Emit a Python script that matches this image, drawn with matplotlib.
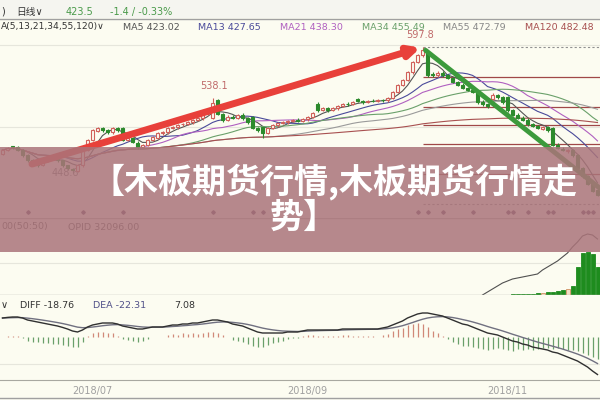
import numpy as np
import pandas as pd
import matplotlib
matplotlib.use("Agg")
import matplotlib.pyplot as plt
from matplotlib.patches import Rectangle
from matplotlib.lines import Line2D

plt.rcParams['font.family'] = ['DejaVu Sans', 'Noto Sans CJK SC']

# ---------------- data ----------------
opens = [472.0, 476.0, 480.5, 479.5, 476.0, 470.0, 464.0, 462.0, 459.0, 464.0,
         467.0, 468.5, 464.0, 458.0, 454.0, 452.0, 458.0, 476.0, 488.0, 499.0,
         502.5, 500.0, 497.0, 502.5, 502.5, 488.0, 490.0, 485.0, 480.0, 482.0,
         488.0, 491.0, 496.0, 497.0, 502.5, 503.0, 506.5, 507.0, 509.0, 511.5,
         513.5, 519.5, 514.0, 535.0, 519.0, 511.5, 515.5, 514.0, 518.0, 514.0,
         515.0, 502.0, 503.0, 496.5, 502.0, 505.5, 508.0, 509.0, 510.5, 512.0,
         510.5, 512.5, 515.0, 531.0, 523.5, 526.0, 523.5, 525.5, 528.0, 531.0,
         530.5, 536.5, 534.0, 533.0, 534.5, 534.0, 535.5, 535.0, 537.5, 544.5,
         553.0, 559.0, 568.0, 580.0, 588.0, 592.0, 566.5, 564.5, 567.5, 565.0,
         561.5, 556.5, 553.5, 549.5, 547.5, 545.0, 533.0, 530.5, 537.0, 541.0,
         539.0, 538.5, 523.5, 518.0, 514.5, 512.0, 507.0, 504.5, 501.5, 503.5,
         502.0, 482.5, 478.0, 474.5, 476.0, 470.0, 455.0, 445.0, 436.5, 428.5]
closes = [476.3, 478.6, 479.8, 476.3, 470.4, 464.5, 462.1, 458.6, 464.5, 466.8,
          468.0, 464.5, 458.6, 455.0, 452.7, 458.6, 476.3, 488.1, 499.9, 502.2,
          499.9, 497.5, 502.2, 499.9, 488.1, 490.4, 485.7, 479.8, 482.2, 488.1,
          491.6, 496.3, 497.5, 502.2, 503.4, 505.8, 506.9, 509.3, 511.7, 514.0,
          519.9, 523.5, 531.7, 519.0, 511.7, 515.2, 514.0, 517.6, 514.0, 509.3,
          502.2, 499.9, 496.3, 502.2, 505.8, 508.1, 509.3, 510.5, 511.7, 510.5,
          512.8, 515.2, 519.9, 523.5, 525.8, 523.5, 525.8, 528.2, 530.5, 530.5,
          532.9, 534.1, 532.9, 534.1, 534.1, 535.3, 535.3, 537.6, 544.7, 553.0,
          558.9, 568.3, 580.1, 588.4, 594.3, 565.0, 564.8, 567.1, 564.8, 561.2,
          556.5, 553.0, 549.4, 547.1, 544.7, 533.0, 530.5, 528.0, 541.2, 538.8,
          532.9, 523.5, 517.6, 514.0, 511.7, 506.9, 504.6, 502.2, 503.4, 499.9,
          482.2, 478.6, 476.3, 476.3, 470.4, 455.0, 445.0, 436.0, 428.0, 423.5]
highs = [477.8, 480.0, 481.5, 480.5, 477.0, 471.0, 465.5, 463.0, 465.5, 468.0,
         469.5, 469.5, 465.0, 459.0, 455.5, 460.0, 477.5, 489.5, 501.0, 504.0,
         504.0, 501.0, 503.5, 503.5, 504.0, 492.0, 491.5, 486.5, 483.5, 489.5,
         493.0, 497.5, 499.0, 503.5, 504.5, 507.0, 508.5, 510.5, 513.0, 515.5,
         521.0, 525.0, 538.1, 536.5, 520.5, 517.0, 517.0, 519.0, 519.5, 515.5,
         516.5, 503.5, 504.0, 503.5, 507.0, 509.5, 510.5, 512.0, 513.0, 513.5,
         514.0, 516.5, 521.5, 532.5, 527.0, 527.5, 527.0, 529.5, 532.0, 532.5,
         534.0, 538.0, 535.5, 535.5, 536.0, 536.5, 537.0, 539.0, 546.0, 554.5,
         560.5, 570.0, 581.5, 590.0, 597.8, 593.5, 568.0, 569.0, 569.0, 566.5,
         563.0, 558.0, 555.0, 551.0, 549.0, 546.5, 535.0, 532.0, 543.0, 542.5,
         540.5, 540.0, 525.0, 519.5, 516.0, 513.5, 508.5, 506.0, 505.0, 505.0,
         503.5, 484.0, 479.5, 478.0, 477.5, 471.5, 456.5, 446.5, 438.0, 430.0]
lows = [470.5, 474.5, 478.0, 474.5, 468.5, 462.5, 460.5, 456.5, 457.5, 462.5,
        465.5, 462.5, 456.5, 453.0, 448.6, 450.5, 456.5, 474.5, 486.5, 497.5,
        498.0, 495.5, 495.5, 498.0, 486.5, 486.5, 484.0, 477.5, 478.5, 480.5,
        486.5, 489.5, 494.5, 495.5, 501.0, 501.5, 505.0, 505.5, 507.5, 510.0,
        512.0, 518.0, 512.5, 517.0, 509.5, 510.0, 512.5, 512.5, 512.0, 507.5,
        500.5, 498.0, 490.4, 495.0, 500.5, 504.0, 506.5, 507.5, 509.0, 509.0,
        509.0, 511.0, 513.5, 521.5, 522.0, 521.5, 522.0, 524.0, 526.5, 528.5,
        529.0, 532.5, 531.0, 531.5, 532.5, 532.5, 533.5, 533.5, 536.0, 543.0,
        551.5, 557.5, 566.5, 578.5, 586.5, 563.0, 563.0, 563.0, 563.0, 559.5,
        555.0, 551.5, 548.0, 545.5, 543.0, 531.0, 528.5, 526.0, 535.5, 537.0,
        531.0, 521.5, 516.0, 512.5, 510.0, 505.0, 503.0, 500.5, 500.0, 498.0,
        480.5, 477.0, 474.5, 473.0, 468.5, 453.5, 443.5, 434.5, 426.5, 421.5]
volumes = [0, 0, 0, 0, 0, 0, 0, 0, 0, 0, 0, 0, 0, 0, 0, 0, 0, 0, 0, 0,
           0, 0, 0, 0, 0, 0, 0, 0, 0, 0, 0, 0, 0, 0, 0, 0, 0, 0, 0, 0,
           0, 0, 0, 0, 0, 0, 0, 0, 0, 0, 0, 0, 0, 0, 0, 0, 0, 0, 0, 0,
           0, 0, 0, 0, 0, 0, 0, 0, 0, 0, 0, 0, 0, 0, 0, 0, 0, 0, 0, 0,
           0, 0, 0, 0, 0, 0, 0, 0, 0, 0, 0, 0, 0, 0, 0, 0, 0.3, 0.3, 0.3, 0.3,
           0.4, 0.5, 0.6, 0.8, 1.0, 1.2, 1.5, 2.0, 2.5, 3.0, 3.5, 4.0, 5.0, 6.0,
           9.0, 28.0, 42.0, 43.0, 41.0, 28.0]
open_interest = [np.nan] * 96 + [0, 3, 6, 9, 12, 14, 16, 17, 18, 19, 20, 21, 25, 28,
                                  31, 34, 38, 42, 48, 53, 59, 61, 60, 56]
diff = [9.5, 9.8, 10.0, 10.0, 9.5, 8.5, 8.0, 7.5, 7.0, 6.5,
        6.0, 5.5, 4.8, 4.0, 3.0, 2.5, 3.5, 5.0, 6.0, 6.5,
        7.0, 7.0, 7.0, 6.5, 5.5, 5.0, 4.5, 4.0, 4.0, 4.5,
        5.0, 5.0, 5.0, 5.5, 6.0, 6.0, 6.5, 6.5, 7.0, 7.0,
        7.5, 8.0, 8.5, 8.5, 8.0, 7.5, 6.5, 6.0, 5.5, 4.5,
        3.5, 2.5, 2.0, 2.0, 2.0, 2.0, 2.0, 2.5, 2.5, 2.5,
        3.0, 3.5, 3.5, 3.5, 3.5, 3.5, 3.5, 3.5, 4.0, 4.0,
        4.0, 4.0, 4.0, 4.0, 4.0, 4.0, 4.5, 5.0, 6.0, 7.0,
        8.0, 9.5, 10.5, 11.5, 12.0, 12.0, 11.5, 11.0, 10.5, 9.5,
        8.5, 7.5, 6.5, 6.0, 5.0, 4.0, 3.0, 2.0, 1.5, 1.0,
        0.0, -1.0, -2.0, -2.5, -3.5, -4.0, -5.0, -5.5, -6.0, -6.5,
        -7.5, -8.0, -9.0, -10.0, -11.0, -12.0, -13.5, -15.0, -17.0, -18.76]
ma_periods = [5, 13, 21, 34, 55, 120]
ma_colors = ['#555555', '#4a4a9a', '#b060c0', '#6aa06a', '#9a9a9a', '#a85050']
ma_labels = ['MA5 423.02', 'MA13 427.65', 'MA21 438.30', 'MA34 455.49',
             'MA55 472.79', 'MA120 482.48']
signal_idx = [5, 16, 24, 42, 50, 52, 83, 85, 88, 94, 101, 102, 105, 109, 110,
              116, 117, 118]
fib_high, fib_low = 597.8, 412.6
fib_levels = [0, 0.191, 0.382, 0.5, 0.618, 0.809, 1.0]
up_line = [(5.9, 459.7), (83.6, 597.0)]
down_line = [(84.6, 594.0), (119.5, 431.0)]
date_idx = [18, 61, 101]
date_labels = ['2018/07', '2018/09', '2018/11']
title_lines = ['【木板期货行情,木板期货行情走', '势】']

N = len(closes)
idx = np.arange(N)
BG = '#fcfcf1'
RED = '#d0605a'
GREEN = '#2c8a2c'

fig = plt.figure(figsize=(6, 4), dpi=100)
fig.patch.set_facecolor(BG)


def px_axes(top, bottom):
    ax = fig.add_axes([0, 1 - bottom / 400, 1, (bottom - top) / 400])
    ax.set_facecolor(BG)
    for s in ax.spines.values():
        s.set_visible(False)
    ax.set_xticks([])
    ax.set_yticks([])
    ax.set_xlim(-0.5, N - 0.5)
    return ax


ax_p = px_axes(35, 218)
ax_v = px_axes(218, 295)
ax_m = px_axes(295, 380)

# ---------------- price panel ----------------
ax_p.set_ylim(396.0, 612.0)
for g in (600.2, 503.4):
    ax_p.axhline(g, color='#e6e6dc', lw=0.8, zorder=0)

cl = pd.Series(closes)
for p, c in zip(ma_periods, ma_colors):
    ax_p.plot(idx, cl.rolling(p, min_periods=1).mean(), color=c, lw=0.8, zorder=2)

for lvl in fib_levels:
    y = fib_high - lvl * (fib_high - fib_low)
    if lvl in (0, 1.0):
        ax_p.hlines(y, 84, N - 0.5, color='#909090', lw=0.8, ls=(0, (2, 2)), zorder=1)
    else:
        ax_p.hlines(y, 84, N - 0.5, color='#a04848', lw=0.9, zorder=1)

for i in idx:
    o, c, h, l = opens[i], closes[i], highs[i], lows[i]
    up = c >= o
    col = RED if up else GREEN
    ax_p.vlines(i, l, h, color=col, lw=0.8, zorder=3)
    ax_p.add_patch(Rectangle((i - 0.36, min(o, c)), 0.72, max(abs(c - o), 0.35),
                             facecolor=BG if up else GREEN, edgecolor=col,
                             lw=0.8, zorder=4))

ax_p.annotate('', xy=up_line[1], xytext=up_line[0],
              arrowprops=dict(arrowstyle='-|>', lw=5, color='#e8403a',
                              mutation_scale=16, shrinkA=0, shrinkB=0),
              zorder=5, alpha=0.9)
ax_p.plot([down_line[0][0], down_line[1][0]], [down_line[0][1], down_line[1][1]],
          color='#3c9a3c', lw=3.5, zorder=5, solid_capstyle='round')

ax_p.plot(signal_idx, [403.1] * len(signal_idx), ls='none', marker='D',
          ms=1.8, color='#604060', zorder=3)

ax_p.annotate('597.8', (84, highs[84]), xytext=(-2, 5), textcoords='offset points',
              ha='center', va='bottom', fontsize=7, color='#c06a6a')
ax_p.annotate('538.1', (42, highs[42]), xytext=(1, 5), textcoords='offset points',
              ha='center', va='bottom', fontsize=7, color='#c06a6a')
ax_p.annotate('448.6', (14, lows[14]), xytext=(-5, 0), textcoords='offset points',
              ha='center', va='center', fontsize=7, color='#707070')

# ---------------- volume panel ----------------
ax_v.set_ylim(0, 77)
ax_v.axhline(32, color='#e6e6dc', lw=0.8, zorder=0)
for i in idx:
    if volumes[i] <= 0:
        continue
    up = closes[i] >= opens[i]
    ax_v.add_patch(Rectangle((i - 0.4, 0), 0.8, volumes[i],
                             facecolor='#f4e0c8' if up else '#1e8c1e',
                             edgecolor='#d09060' if up else '#1e8c1e', lw=0.6))
ax_v.plot(idx, open_interest, color='#505050', lw=0.8)
ax_v.axhline(77, color='#b8b8b0', lw=1.0)
ax_v.axhline(0.3, color='#b8b8b0', lw=1.0)

# ---------------- MACD panel ----------------
ax_m.set_ylim(-21.5, 21)
d = pd.Series(diff)
dea = d.ewm(span=9, adjust=False).mean()
hist = 2 * (d - dea)
ax_m.axhline(-13.5, color='#e6e6dc', lw=0.8, zorder=0)
ax_m.vlines(idx, 0, hist, colors=np.where(hist >= 0, '#d08878', '#6aa06a'), lw=0.9)
ax_m.plot(idx, dea, color='#707080', lw=1.0)
ax_m.plot(idx, d, color='#303030', lw=1.0)
ax_m.spines['bottom'].set_visible(True)
ax_m.spines['bottom'].set_color('#a8a8a0')
ax_m.set_xticks(date_idx)
ax_m.set_xticklabels(date_labels)
ax_m.tick_params(axis='x', length=0, pad=4, labelsize=7, labelcolor='#a0a0a0')

# ---------------- header texts ----------------
fig.add_artist(Rectangle((0, 1 - 18 / 400), 1, 18 / 400, transform=fig.transFigure,
                         facecolor='#f5f5f0', edgecolor='none', zorder=0))
fig.add_artist(Line2D([0, 1], [1 - 18.5 / 400] * 2, transform=fig.transFigure,
                      color='#a0a0a0', lw=1))
fig.add_artist(Line2D([0, 1], [1 - 398 / 400] * 2, transform=fig.transFigure,
                      color='#a0a0a0', lw=1))


def ftext(x, y, s, **kw):
    fig.text(x / 600, 1 - y / 400, s, va='center', ha='left', **kw)


ftext(1, 12, ')', fontsize=7, color='#333333')
ftext(16, 12, '日线∨', fontsize=7, color='#333333')
ftext(66, 12, '423.5', fontsize=7, color='#4a9a4a')
ftext(110, 12, '-1.4 / -0.33%', fontsize=7, color='#4a9a4a')

ftext(1, 27, 'A(5,13,21,34,55,120)∨', fontsize=6.6, color='#333333')
for x, s, c in zip([123, 198, 280, 362, 443, 525], ma_labels, ma_colors):
    ftext(x, 27, s, fontsize=6.8, color=c if c != '#9a9a9a' else '#888888')

ftext(1, 227, '00(50:50)', fontsize=6.8, color='#555555')
ftext(68, 227, 'OPID 32096.00', fontsize=6.8, color='#555555')

ftext(1, 305, '∨', fontsize=7, color='#333333')
ftext(20, 305, 'DIFF -18.76', fontsize=6.8, color='#333333')
ftext(93, 305, 'DEA -22.31', fontsize=6.8, color='#505088')
ftext(174, 305, '7.08', fontsize=6.8, color='#333333')

# ---------------- banner ----------------
fig.add_artist(Rectangle((0, 1 - 252 / 400), 1, 105 / 400, transform=fig.transFigure,
                         facecolor=(170 / 255, 116 / 255, 122 / 255), alpha=0.85,
                         edgecolor='none', zorder=10))
fig.text(334 / 600, 1 - 182 / 400, title_lines[0], ha='center', va='center',
         fontsize=24.5, fontweight='bold', color='white',
         family=['Noto Sans CJK SC', 'DejaVu Sans'], zorder=11)
fig.text(304 / 600, 1 - 217 / 400, title_lines[1], ha='center', va='center',
         fontsize=24.5, fontweight='bold', color='white',
         family=['Noto Sans CJK SC', 'DejaVu Sans'], zorder=11)

fig.savefig('out.png', dpi=100, facecolor=BG)
